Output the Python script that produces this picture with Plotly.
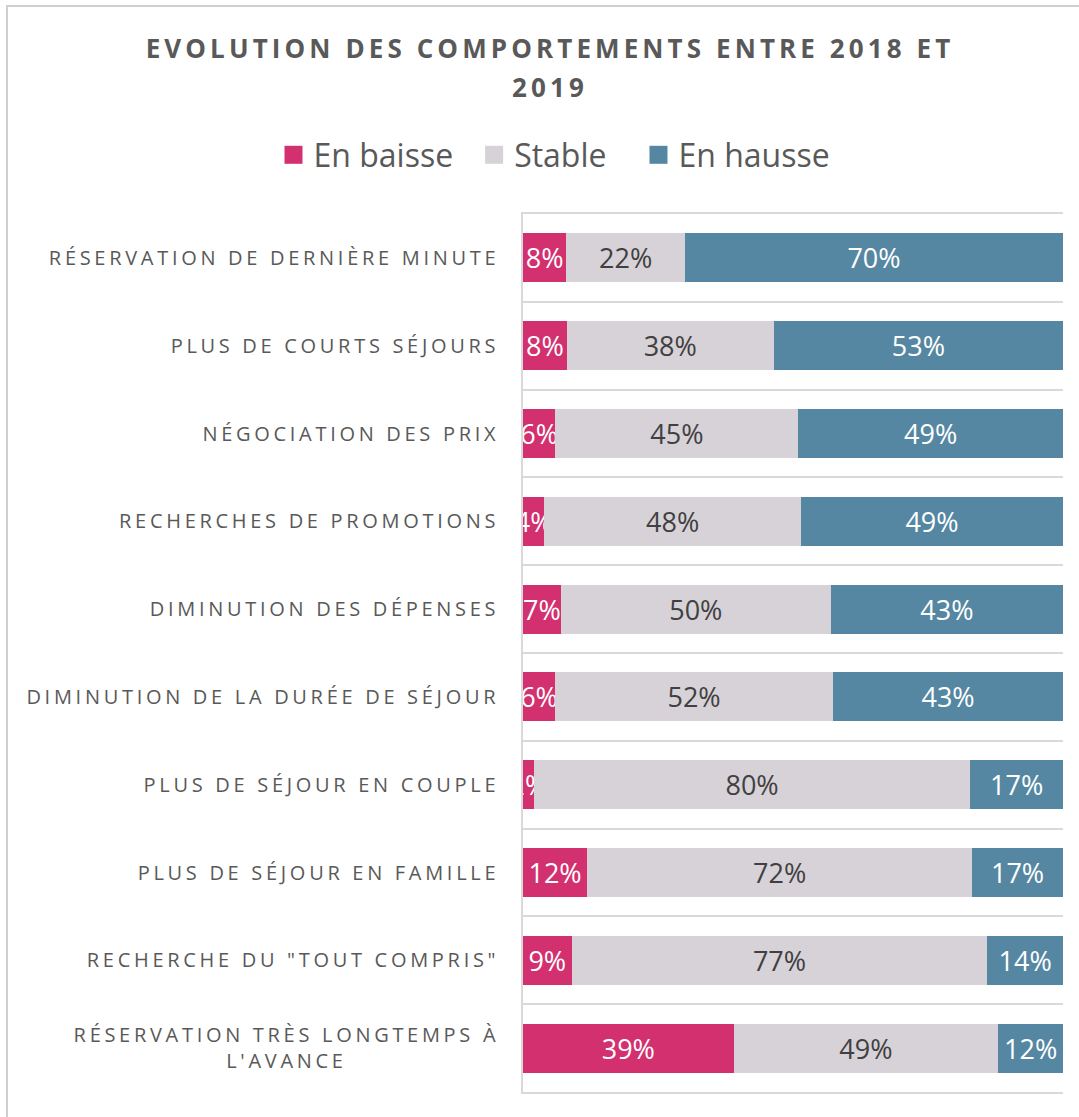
import plotly.graph_objects as go

categories = [
    "RÉSERVATION DE DERNIÈRE MINUTE",
    "PLUS DE COURTS SÉJOURS",
    "NÉGOCIATION DES PRIX",
    "RECHERCHES DE PROMOTIONS",
    "DIMINUTION DES DÉPENSES",
    "DIMINUTION DE LA DURÉE DE SÉJOUR",
    "PLUS DE SÉJOUR EN COUPLE",
    "PLUS DE SÉJOUR EN FAMILLE",
    'RECHERCHE DU "TOUT COMPRIS"',
    "RÉSERVATION TRÈS LONGTEMPS À<br>L'AVANCE",
]
en_baisse = [8, 8, 6, 4, 7, 6, 2, 12, 9, 39]
stable = [22, 38, 45, 48, 50, 52, 80, 72, 77, 49]
en_hausse = [70, 53, 49, 49, 43, 43, 17, 17, 14, 12]

series = [
    ("En baisse", en_baisse, "#D2306F", "#FFFFFF"),
    ("Stable", stable, "#D7D2D8", "#404040"),
    ("En hausse", en_hausse, "#5587A2", "#FFFFFF"),
]

fig = go.Figure()
for name, vals, color, tcolor in series:
    fig.add_trace(go.Bar(
        y=categories, x=vals, name=name, orientation="h",
        marker=dict(color=color, line=dict(width=0)),
        text=[f"{v}%" for v in vals],
        textposition="inside", insidetextanchor="middle",
        textangle=0, constraintext="none",
        textfont=dict(family="Open Sans", size=27, color=tcolor),
        cliponaxis=True, hoverinfo="skip",
    ))

W, H = 1079, 1117
L, R, T, B = 523, 16, 214, 25

fig.update_layout(
    width=W, height=H,
    margin=dict(l=L, r=R, t=T, b=B),
    barmode="stack", barnorm="percent", bargap=0.44,
    paper_bgcolor="white", plot_bgcolor="white",
    font=dict(family="Open Sans", color="#595959"),
    title=dict(
        text="EVOLUTION DES COMPORTEMENTS ENTRE 2018 ET<br>2019",
        x=550 / W, xanchor="center", xref="container",
        y=1 - 58 / H, yanchor="top", yref="container",
        font=dict(family="Open Sans", size=26, color="#595959", weight="bold"),
    ),
    legend=dict(
        orientation="h", xref="container", yref="container",
        x=557 / W, xanchor="center", y=1 - 155 / H, yanchor="middle",
        font=dict(family="Open Sans", size=32, color="#595959"),
        itemwidth=30, traceorder="normal",
    ),
    xaxis=dict(
        range=[0, 100], showticklabels=False, showgrid=False, zeroline=False,
        showline=True, mirror=True, linecolor="#D9D9D9", linewidth=1.5,
        ticks="", fixedrange=True,
    ),
    yaxis=dict(
        type="category", autorange="reversed",
        tickson="boundaries", showgrid=True, gridcolor="#D9D9D9", gridwidth=1.5,
        showline=True, linecolor="#D9D9D9", linewidth=1.5,
        ticks="", ticklabelstandoff=18,
        tickfont=dict(family="Open Sans", size=20, color="#595959"),
        fixedrange=True,
    ),
    shapes=[dict(
        type="rect", xref="paper", yref="paper",
        x0=(7 - L) / (W - L - R), x1=2, y0=-1, y1=(H - B - 6) / (H - T - B),
        line=dict(color="#CFCFCF", width=2), fillcolor="rgba(0,0,0,0)", layer="below",
    )],
)

post = """
document.body.style.margin = '0';
var gd = document.getElementById('{plot_id}');
var legendShift = [-24, -8, 19];
function ls(){
  gd.querySelectorAll('.ytick text').forEach(function(t){
    t.style.letterSpacing = '3.7px';
    var lines = t.querySelectorAll('tspan.line');
    if (lines.length > 1 && !t.dataset.centered) {
      var tx = parseFloat(t.getAttribute('x'));
      var w = 0;
      lines.forEach(function(l){ w = Math.max(w, l.getComputedTextLength()); });
      t.setAttribute('text-anchor', 'middle');
      t.style.textAnchor = 'middle';
      lines.forEach(function(l){ l.setAttribute('x', tx - w / 2); });
      t.dataset.centered = '1';
    }
  });
  var t = gd.querySelector('.gtitle');
  if (t) {
    t.style.letterSpacing = '4.1px';
    var tl = t.querySelectorAll('tspan.line');
    if (tl.length > 1) { tl[1].setAttribute('dy', '1.5em'); }
  }
  gd.querySelectorAll('.legendpoints path').forEach(function(p){ p.setAttribute('d', 'M9,9H-9V-9H9Z'); });
  gd.querySelectorAll('.legend .scrollbox').forEach(function(s){ s.removeAttribute('clip-path'); });
  var items = gd.querySelectorAll('.legend .traces');
  items.forEach(function(g, i){
    if (g.dataset.shifted || i >= legendShift.length) return;
    var tr = g.getAttribute('transform') || '';
    var m = tr.match(/translate\\(([-0-9.e]+)[ ,]+([-0-9.e]+)\\)/);
    if (m) {
      g.setAttribute('transform', 'translate(' + (parseFloat(m[1]) + legendShift[i]) + ',' + m[2] + ')');
      g.dataset.shifted = '1';
    }
  });
}
ls();
gd.on('plotly_afterplot', ls);
"""

fig.write_html("out.html", post_script=post, config={"displayModeBar": False})
